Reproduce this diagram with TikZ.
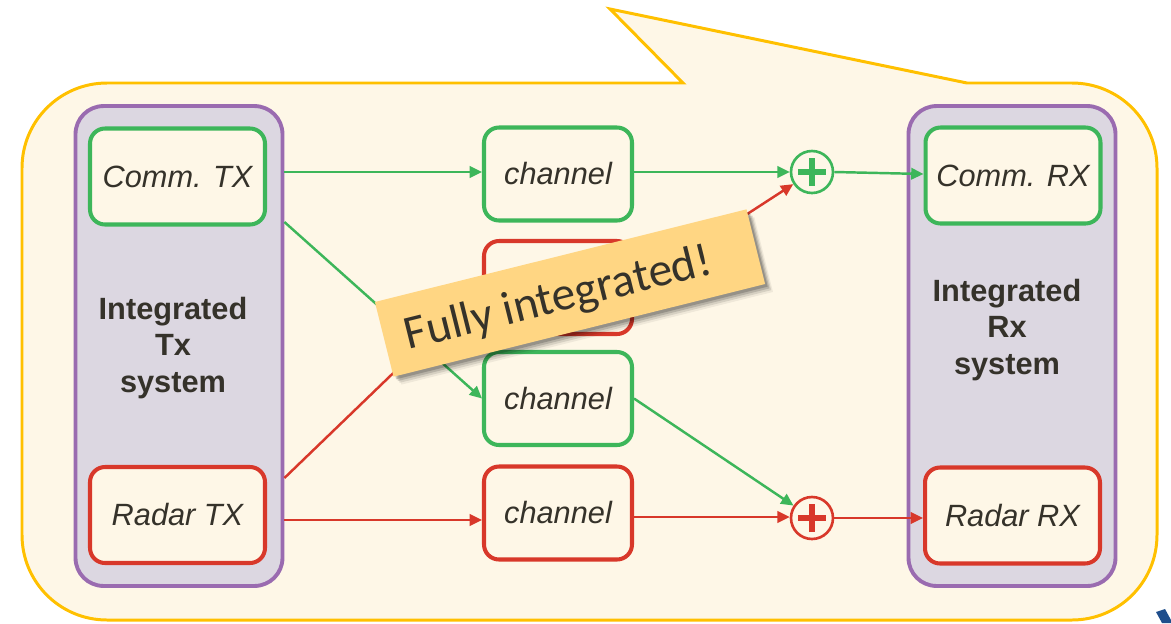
\documentclass[tikz,border=0pt]{standalone}
\usepackage{fontspec}
\setmainfont{Liberation Sans}
\newfontfamily\notefont{Carlito}
\usetikzlibrary{arrows.meta,shadows,calc}

\definecolor{cream}{HTML}{FEF7E7}
\definecolor{bubbleline}{HTML}{FFC000}
\definecolor{sysfill}{HTML}{DCD7E1}
\definecolor{sysline}{HTML}{9A6BB0}
\definecolor{commgreen}{HTML}{3DB65A}
\definecolor{radarred}{HTML}{D8382A}
\definecolor{notefill}{HTML}{FFD683}
\definecolor{inkdark}{HTML}{35322A}
\definecolor{logoblue}{HTML}{1F4E8C}

\begin{document}
\begin{tikzpicture}[x=0.02cm,y=-0.02cm,
  sysbox/.style={draw=sysline,fill=sysfill,line width=2.2pt,rounded corners=0.56cm,
    minimum width=4.14cm,minimum height=9.6cm},
  unitbox/.style={fill=cream,line width=2.3pt,rounded corners=0.3cm,
    minimum width=3.5cm,minimum height=1.92cm,
    font=\fontsize{17.5}{21}\selectfont\itshape,text=inkdark},
  chanbox/.style={unitbox,minimum width=2.96cm,minimum height=1.86cm},
  commbox/.style={unitbox,draw=commgreen},
  radarbox/.style={unitbox,draw=radarred},
  commchan/.style={chanbox,draw=commgreen},
  radarchan/.style={chanbox,draw=radarred},
  sumnode/.style={circle,draw=#1,line width=1.5pt,fill=cream,minimum size=0.84cm,inner sep=0pt,
    path picture={\draw[#1,line width=3.4pt]
      ([yshift=-0.28cm]path picture bounding box.center) -- ([yshift=0.28cm]path picture bounding box.center)
      ([xshift=-0.28cm]path picture bounding box.center) -- ([xshift=0.28cm]path picture bounding box.center);}},
  syslabel/.style={font=\fontsize{17.5}{21}\selectfont\bfseries,text=inkdark,align=center},
  flow/.style={line width=1.4pt,-{Triangle[length=7pt,width=6.5pt]}},
  commflow/.style={flow,commgreen},
  radarflow/.style={flow,radarred},
  softshadow/.style={
    drop shadow={shadow xshift=1.5pt,shadow yshift=-1.5pt,opacity=0.18,fill=black},
    drop shadow={shadow xshift=2.5pt,shadow yshift=-2.5pt,opacity=0.14,fill=black},
    drop shadow={shadow xshift=3.5pt,shadow yshift=-3.5pt,opacity=0.10,fill=black},
    drop shadow={shadow xshift=4.5pt,shadow yshift=-4.5pt,opacity=0.06,fill=black}}]

\useasboundingbox (0,0) rectangle (1171,623);

% speech bubble with its pointer
\draw[fill=cream,draw=bubbleline,line width=1.7pt,line join=miter]
  (683,83) -- (610,9) -- (967,83) -- (1072,83)
  .. controls (1119,83) and (1157,121) .. (1157,168) -- (1157,535)
  .. controls (1157,582) and (1119,620) .. (1072,620) -- (107,620)
  .. controls (60,620) and (22,582) .. (22,535) -- (22,168)
  .. controls (22,121) and (60,83) .. (107,83) -- cycle;

% partial logo glyph in the corner
\fill[logoblue] (1156,612) -- (1165,609) -- (1171,620) -- (1171,623) -- (1162,623) -- cycle;

% integrated transmitter and receiver frames
\node[sysbox] (txsys) at (179,346) {};
\node[sysbox] (rxsys) at (1012,346) {};
\node[syslabel] (txlabel) at (173,348) {Integrated\\Tx\\system};
\node[syslabel] (rxlabel) at (1007,330) {Integrated\\Rx\\system};

% transmitter and receiver units
\node[commbox]  (commtx)  at (177.5,176.5) {Comm. TX};
\node[radarbox] (radartx) at (177.5,515) {Radar TX};
\node[commbox]  (commrx)  at (1013,175.5) {Comm. RX};
\node[radarbox] (radarrx) at (1012.5,515.5) {Radar RX};

% channels
\node[commchan]  (ch1) at (558,174) {channel};
\node[radarchan] (ch2) at (558,287.5) {channel};
\node[commchan]  (ch3) at (558,398.5) {channel};
\node[radarchan] (ch4) at (558,513) {channel};

% adders
\node[sumnode=commgreen] (sum1) at (812,172) {};
\node[sumnode=radarred]  (sum2) at (812,518) {};

% connector end points on the frame edges
\coordinate (tx1) at (txsys.east |- 0,172);
\coordinate (tx2) at (txsys.east |- 0,222);
\coordinate (tx3) at (txsys.east |- 0,478);
\coordinate (tx4) at (txsys.east |- 0,520);

% communication paths
\draw[commflow] (tx1) -- (ch1.west |- tx1);
\draw[commflow] (ch1.east |- sum1) -- (sum1.west);
\draw[commflow] (sum1.east) -- (commrx.west |- 0,174);
\draw[commflow] (tx2) -- (ch3.west);
\draw[commflow] (ch3.east) -- (sum2);

% radar paths
\draw[radarflow] (tx3) -- (ch2.west);
\draw[radarflow] (ch2.east) -- (sum1);
\draw[radarflow] (tx4) -- (ch4.west |- tx4);
\draw[radarflow] (ch4.east |- 0,517) -- (sum2.west |- 0,517);
\draw[radarflow] (sum2.east) -- (radarrx.west |- sum2);

% sticky note on top
\node[fill=notefill,rotate=14,minimum width=7.66cm,minimum height=1.54cm,softshadow] (note) at (570,293) {};
\node[rotate=14,font=\notefont\fontsize{27}{32}\selectfont,text=inkdark] (notetext) at (558.5,299.5) {Fully integrated!};

\end{tikzpicture}
\end{document}
